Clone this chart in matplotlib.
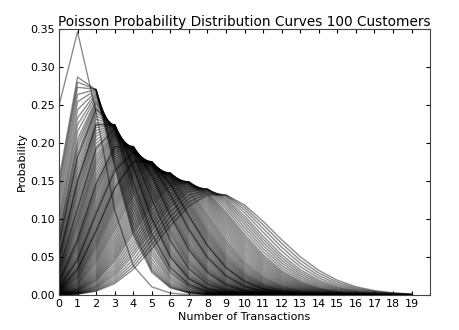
import math
import numpy as np
import matplotlib
matplotlib.use("Agg")
import matplotlib.pyplot as plt

# estimated mean transactions (lambda) per customer
lambdas = [
    1.39, 1.88, 1.93, 1.98, 2.05, 2.12, 2.2, 2.28, 2.35, 2.42,
    2.5, 2.55, 2.6, 2.66, 2.72, 2.78, 2.84, 2.9, 2.96, 3.0,
    3.05, 3.1, 3.15, 3.2, 3.26, 3.32, 3.38, 3.44, 3.5, 3.55,
    3.6, 3.65, 3.7, 3.76, 3.82, 3.88, 3.94, 4.0, 4.05, 4.1,
    4.15, 4.2, 4.26, 4.32, 4.38, 4.44, 4.5, 4.55, 4.6, 4.66,
    4.72, 4.78, 4.84, 4.9, 4.96, 5.0, 5.06, 5.12, 5.18, 5.24,
    5.3, 5.36, 5.42, 5.48, 5.55, 5.62, 5.7, 5.78, 5.86, 5.94,
    6.02, 6.1, 6.2, 6.3, 6.4, 6.5, 6.6, 6.7, 6.8, 6.9,
    7.0, 7.1, 7.2, 7.3, 7.45, 7.6, 7.75, 7.9, 8.05, 8.2,
    8.4, 8.6, 8.8, 9.0, 3.0, 4.0, 5.0, 2.7, 3.4, 4.6,
]
transactions = list(range(20))
xtick_labels = [str(k) for k in transactions]


def poisson_pmf(k, lam):
    return lam ** k * math.exp(-lam) / math.factorial(k)


fig = plt.figure(figsize=(4.59, 3.30), dpi=100)
ax = fig.add_axes([0.1285, 0.106, 0.8085, 0.806])

for lam in lambdas:
    probs = [poisson_pmf(k, lam) for k in transactions]
    ax.plot(transactions, probs, color="k", alpha=0.45, lw=1.0)

ax.set_xlim(0, 20)
ax.set_ylim(0, 0.35)
ax.set_xticks(transactions)
ax.set_xticklabels(xtick_labels)
ax.set_yticks(np.arange(0, 0.351, 0.05))
ax.tick_params(direction="in", top=True, right=True, labelsize=8, length=3, pad=3)
for s in ax.spines.values():
    s.set_color("#444444")
ax.set_title("Poisson Probability Distribution Curves 100 Customers", fontsize=9.8, pad=2)
ax.set_xlabel("Number of Transactions", fontsize=8, labelpad=2)
ax.set_ylabel("Probability", fontsize=8, labelpad=2)

fig.savefig("out.png", dpi=100)
